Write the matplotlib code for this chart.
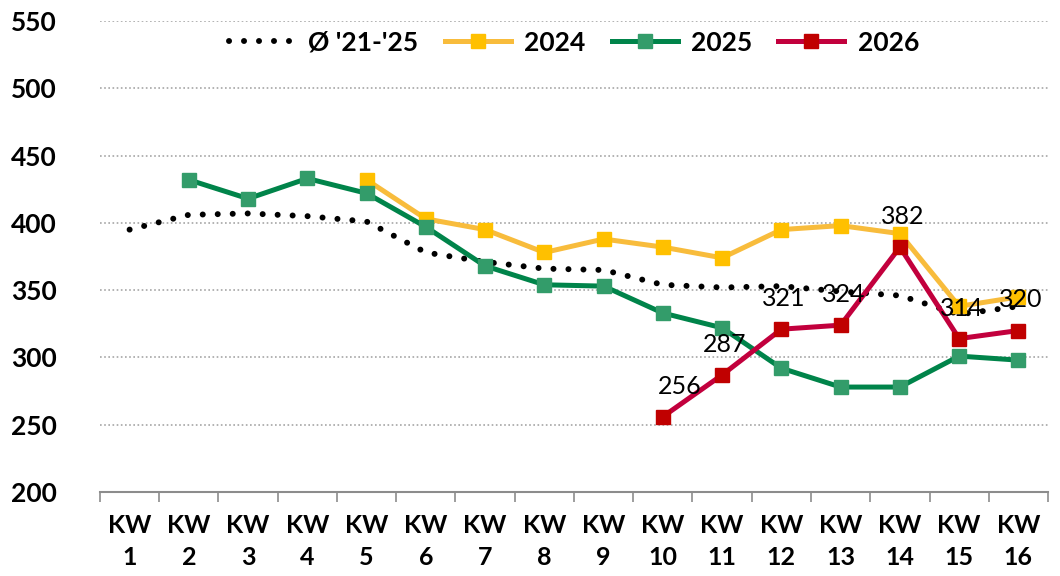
import matplotlib
matplotlib.use("Agg")
import matplotlib.pyplot as plt
import numpy as np

plt.rcParams['font.family'] = ['Lato', 'DejaVu Sans']

weeks = ["KW\n%d" % i for i in range(1, 17)]
x = np.arange(1, 17)

avg_21_25 = [395, 406, 407, 405, 401, 378, 371, 366, 365, 354, 352, 353, 349, 346, 332, 338]
y2024 = [None, None, None, None, 432, 403, 395, 378, 388, 382, 374, 395, 398, 392, 338, 345]
y2025 = [None, 432, 418, 433, 422, 397, 368, 354, 353, 333, 322, 292, 278, 278, 301, 298]
y2026 = [None] * 9 + [256, 287, 321, 324, 382, 314, 320]

def arr(v):
    return np.array([np.nan if a is None else a for a in v], dtype=float)

fig = plt.figure(figsize=(10.6, 5.76), dpi=100)
ax = fig.add_axes([0.0943, 0.1458, 0.8944, 0.8177])

# gridlines
for g in range(250, 551, 50):
    ax.axhline(g, color='#A6A6A6', lw=1.2, ls=(0, (1, 1.5)), zorder=0)

ax.plot(x, avg_21_25, color='black', lw=4.3, ls=(0, (0.01, 2.5)),
        dash_capstyle='round', label="Ø '21-'25", zorder=2)
ax.plot(x, arr(y2024), color='#F8BC3C', lw=3.6, marker='s', ms=9.5,
        mfc='#FFC000', mec='#FFC000', label='2024', zorder=3)
ax.plot(x, arr(y2025), color='#00844A', lw=3.6, marker='s', ms=9.5,
        mfc='#339C6A', mec='#339C6A', label='2025', zorder=4)
ax.plot(x, arr(y2026), color='#C2003D', lw=3.6, marker='s', ms=9.5,
        mfc='#C00000', mec='#C00000', label='2026', zorder=5)

for xi, v in zip(x, y2026):
    if v is None:
        continue
    dx = 12 if xi == 10 else 2
    ax.annotate(str(v), (xi, v), xytext=(dx, 22), textcoords='offset points',
                ha='center', va='center', fontsize=18, color='black', zorder=6)

ax.set_xlim(0.5, 16.5)
ax.set_ylim(200, 550)
ax.set_yticks(range(200, 551, 50))
ax.set_xticks(x)
ax.set_xticklabels(weeks, fontsize=18, fontweight='bold', linespacing=1.45)
ax.set_xticks(np.arange(0.5, 16.6, 1), minor=True)
ax.tick_params(axis='x', which='major', length=0, pad=16)
ax.tick_params(axis='x', which='minor', length=7, color='#8C8C8C', width=1.2)
ax.tick_params(axis='y', length=0, pad=64, labelsize=19)
for lab in ax.get_yticklabels():
    lab.set_fontweight('bold')
    lab.set_horizontalalignment('left')

for s in ['left', 'right', 'top']:
    ax.spines[s].set_visible(False)
ax.spines['bottom'].set_color('#8C8C8C')
ax.spines['bottom'].set_linewidth(1.5)

leg = ax.legend(loc='upper center', bbox_to_anchor=(0.5, 1.03), ncol=4,
                frameon=False, prop={'weight': 'bold', 'size': 19},
                handlelength=2.5, columnspacing=1.0, handletextpad=0.5)

fig.savefig('out.png', dpi=100)
